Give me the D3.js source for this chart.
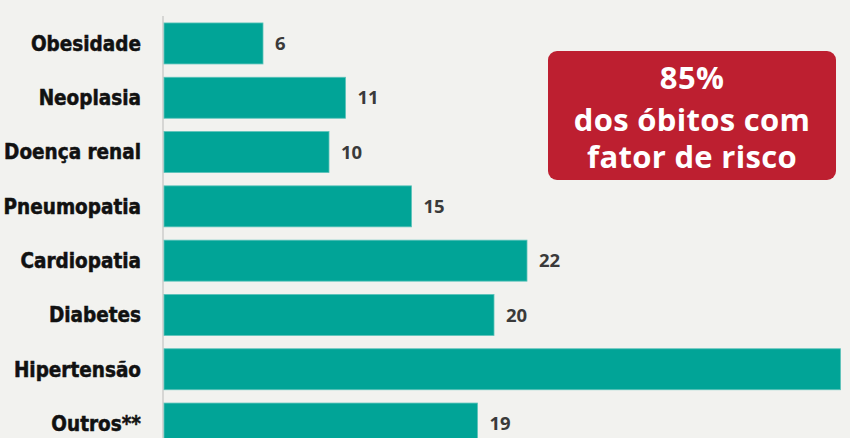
<!DOCTYPE html>
<html><head><meta charset="utf-8">
<script src="https://cdn.jsdelivr.net/npm/d3@7"></script>
<style>
html,body{margin:0;padding:0;background:#f2f2ef;overflow:hidden;}
svg{display:block;}
</style></head>
<body>
<svg id="chart" width="850" height="438"></svg>
<script>
const categories = ["Obesidade","Neoplasia","Doença renal","Pneumopatia","Cardiopatia","Diabetes","Hipertensão","Outros**"];
const values = [6, 11, 10, 15, 22, 20, 41, 19];
const calloutLines = ["85%", "dos óbitos com", "fator de risco"];

const W = 850, H = 438;
const svg = d3.select("#chart");

svg.append("rect").attr("width", W).attr("height", H).attr("fill", "#f2f2ef");

const x0 = 164;
const x = d3.scaleLinear().domain([0, 42]).range([x0, x0 + 42 * 16.5]);
const y = d3.scaleBand().domain(categories).range([16.3, 16.3 + 8 * 54.3])
  .paddingInner(0.245).paddingOuter(0.1225);

// axis line
svg.append("line").attr("x1", x0 - 1).attr("x2", x0 - 1).attr("y1", 16).attr("y2", H)
  .attr("stroke", "#d6d6d4").attr("stroke-width", 2);

const data = categories.map((c, i) => ({c, v: values[i]}));

svg.selectAll("rect.bar").data(data).join("rect")
  .attr("class", "bar")
  .attr("x", x(0))
  .attr("y", d => y(d.c))
  .attr("width", d => x(d.v) - x(0))
  .attr("height", y.bandwidth())
  .attr("fill", "#01a497")
  .attr("stroke", "#5cc3ba").attr("stroke-width", 0.8);

svg.selectAll("text.cat").data(data).join("text")
  .attr("class", "cat")
  .attr("x", 141)
  .attr("y", d => y(d.c) + y.bandwidth() / 2)
  .attr("dy", "0.36em")
  .attr("text-anchor", "end")
  .attr("font-family", "'DejaVu Sans Condensed', 'DejaVu Sans', sans-serif")
  .attr("font-weight", "bold")
  .attr("font-size", "20.5px")
  .attr("fill", "#111")
  .attr("stroke", "#111").attr("stroke-width", 0.5)
  .text(d => d.c);

// value labels (those falling beyond the picture edge are not visible in the reference)
svg.selectAll("text.val").data(data.filter(d => x(d.v) + 30 < W)).join("text")
  .attr("class", "val")
  .attr("x", d => x(d.v) + 12)
  .attr("y", d => y(d.c) + y.bandwidth() / 2)
  .attr("dy", "0.36em")
  .attr("font-family", "'Open Sans', sans-serif")
  .attr("font-weight", "bold")
  .attr("font-size", "18.5px")
  .attr("fill", "#3a3a3a")
  .text(d => d.v);

// callout box
const bx = 548, by = 51, bw = 288, bh = 129;
svg.append("rect").attr("x", bx).attr("y", by).attr("width", bw).attr("height", bh)
  .attr("rx", 9).attr("fill", "#bd1f30");
const baselines = [89, 131, 167.5];
svg.selectAll("text.callout").data(calloutLines).join("text")
  .attr("class", "callout")
  .attr("x", bx + bw / 2)
  .attr("y", (d, i) => baselines[i])
  .attr("text-anchor", "middle")
  .attr("font-family", "'Open Sans', sans-serif")
  .attr("font-weight", "bold")
  .attr("font-size", "31px")
  .attr("letter-spacing", "0.3px")
  .attr("fill", "#ffffff")
  .text(d => d);
</script>
</body></html>
